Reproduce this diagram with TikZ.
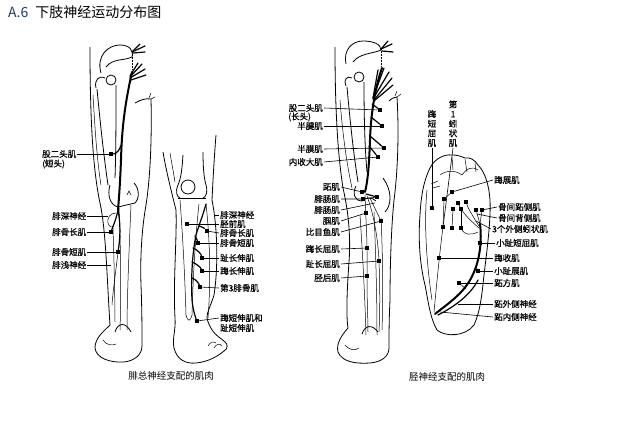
\documentclass[tikz,border=0pt]{standalone}
\usepackage{fontspec}
\setmainfont{Noto Sans CJK SC}
\newfontfamily\lblfont{Noto Sans CJK SC}[FakeBold=0.7]
\definecolor{titleblue}{RGB}{31,56,100}
\begin{document}
\begin{tikzpicture}[x=1pt,y=-1pt,
  outl/.style={line width=0.8pt},
  thinl/.style={line width=0.5pt},
  nerve/.style={line width=2pt, line cap=round},
  nerv2/.style={line width=1.2pt, line cap=round},
  sq/.style={fill=black, minimum size=4.5pt, inner sep=0pt, outer sep=0pt},
  lbl/.style={font=\lblfont\fontsize{8.5}{9.6}\selectfont, inner sep=1pt},
  lead/.style={line width=0.6pt}]
\useasboundingbox (0,0) rectangle (624,447);

% title
\node[anchor=west, inner sep=0pt, font=\fontsize{14}{16}\selectfont] (title) at (8,12) {\textcolor{titleblue}{A.6}\hspace{7pt}下肢神经运动分布图};

% ================= left figure 1 (posterior view) =================
\draw[outl] (90,47) .. controls (90,120) and (93,170) .. (100,203) .. controls (106,230) and (107,280) .. (110,325) .. controls (103,332) and (95,338) .. (95,348) .. controls (96,358) and (110,363) .. (124,362) .. controls (134,361) and (142,355) .. (142,346);
\draw[outl] (151,99) .. controls (152,140) and (150,180) .. (146,205) .. controls (142,228) and (140,255) .. (141,285) .. controls (142,310) and (142,330) .. (142,346);
\draw[outl] (135,103) .. controls (140,100) and (146,98) .. (151,99);
\draw[thinl] (149,98) -- (151,93); \draw[thinl] (151,99) -- (155,97);
\draw[outl] (101,73) .. controls (96,56) and (108,45) .. (120,45) .. controls (129,45) and (134,50) .. (132,57) .. controls (124,61) and (113,58) .. (106,67);
\draw[outl] (111,80) circle (5);
\draw[outl] (96,88) .. controls (94,80) and (99,75) .. (105,78);
\draw[outl] (97,89) .. controls (100,120) and (103,150) .. (108,185);
\draw[outl] (116,85) .. controls (116,120) and (116,150) .. (115,178);
\draw[thinl] (93,95) .. controls (95,130) and (97,160) .. (101,185);
\draw[outl] (110,185) .. controls (107,195) and (110,205) .. (118,207) -- (135,203) .. controls (140,198) and (139,188) .. (134,183);
\draw[thinl] (127,195) -- (129,191) -- (131,195);
\draw[thinl] (119,208) .. controls (121,250) and (121,300) .. (120,330);
\draw[thinl] (131,205) .. controls (129,250) and (127,300) .. (127,330);
\draw[thinl] (113,228) .. controls (114,260) and (115,300) .. (115,322);
\draw[outl] (115,332) .. controls (118,322) and (126,322) .. (131,332);
\draw[thinl] (103,340) .. controls (106,345) and (112,346) .. (116,344);
% nerve
\draw[thinl, densely dotted] (132,52) -- (132,70);
\draw[nerv2] (132,52) -- (140,44); \draw[nerv2] (132,52) -- (145,46); \draw[nerv2] (133,53) -- (145,52);
\draw[nerve] (132,72) .. controls (127,95) and (122,120) .. (121,160) .. controls (120,185) and (119,198) .. (118,210);
\draw[nerv2] (130,76) -- (138,63); \draw[nerv2] (130,77) -- (142,64); \draw[nerv2] (130,78) -- (145,69); \draw[nerv2] (131,80) -- (146,75);
\node[sq] (s_bfs) at (111,154) {};
\node[sq] (s_pl) at (111,232) {};
\node[sq] (s_pb) at (118,252) {};
\draw[nerv2] (121,145) .. controls (120,150) and (116,154) .. (s_bfs);
\draw[nerv2] (118,210) .. controls (116,220) and (113,226) .. (s_pl);
\draw[nerv2] (118,210) .. controls (121,225) and (120,240) .. (s_pb);
\draw[thinl] (s_pb) .. controls (116,270) and (113,290) .. (112,305);
\draw[thinl] (116,213) .. controls (110,213) and (107,218) .. (108,223) .. controls (109,227) and (112,228) .. (114,226);
\coordinate (c_dpn) at (108,216);
\coordinate (c_spn) at (111,265);
\node[lbl, anchor=west] (bfs) at (41,154) {股二头肌};
\node[lbl, anchor=west] (bfs2) at (41,164) {(短头)};
\node[lbl, anchor=west] (dpn) at (51,216) {腓深神经};
\node[lbl, anchor=west] (pl) at (51,232) {腓骨长肌};
\node[lbl, anchor=west] (pb) at (51,252) {腓骨短肌};
\node[lbl, anchor=west] (spn) at (51,265) {腓浅神经};
\draw[lead] (bfs.east) -- (s_bfs);
\draw[lead] (dpn.east) -- (c_dpn);
\draw[lead] (pl.east) -- (s_pl);
\draw[lead] (pb.east) -- (s_pb);
\draw[lead] (spn.east) -- (c_spn);

% ================= left figure 2 (anterior view) =================
\draw[outl] (163,152) .. controls (166,170) and (171,190) .. (176,210) .. controls (177,240) and (173,280) .. (175,318) .. controls (176,330) and (172,338) .. (174,348) .. controls (177,360) and (186,364) .. (196,363) .. controls (207,362) and (217,357) .. (224,351);
\draw[outl] (224,351) .. controls (228,349) and (228,344) .. (225,342) .. controls (221,338) and (216,336) .. (212,330) .. controls (209,325) and (207,320) .. (207,317);
\draw[thinl] (214,348) .. controls (216,344) and (220,343) .. (222,346);
\draw[thinl] (208,346) .. controls (210,342) and (214,341) .. (216,343);
\draw[outl] (216,135) .. controls (214,160) and (213,180) .. (212,200) .. controls (218,230) and (218,270) .. (214,295) .. controls (211,305) and (207,312) .. (207,317);
\draw[thinl] (170,153) .. controls (172,165) and (174,175) .. (175,182);
\draw[outl] (183,155) .. controls (182,170) and (181,178) .. (178,185) .. controls (175,192) and (177,197) .. (180,198);
\draw[outl] (203,152) .. controls (203,168) and (204,178) .. (206,185) .. controls (208,192) and (206,197) .. (203,198);
\draw[outl] (188,187) circle (7);
\draw[outl] (178,198) -- (206,198);
\draw[thinl] (180,200) .. controls (183,240) and (185,280) .. (186,315);
\draw[thinl] (199,204) .. controls (195,240) and (193,280) .. (192,315);
\draw[thinl] (206,204) .. controls (210,240) and (211,280) .. (208,318);
\draw[thinl] (186,315) .. controls (188,322) and (190,322) .. (192,315);
% nerve
\node[sq] (s_ta) at (187,224) {};
\node[sq] (s_pl2) at (207,231) {};
\node[sq] (s_pb2) at (198,243) {};
\node[sq] (s_edl) at (202,258) {};
\node[sq] (s_ehl) at (202,271) {};
\node[sq] (s_pt) at (200,287) {};
\node[sq] (s_ehb) at (197,321) {};
\draw[nerv2] (206,204) .. controls (203,215) and (199,225) .. (196,235) .. controls (192,255) and (191,280) .. (192,300) .. controls (193,310) and (195,316) .. (s_ehb);
\draw[nerv2] (199,226) .. controls (203,227) and (205,229) .. (s_pl2);
\draw[nerv2] (195,236) .. controls (197,238) .. (s_pb2);
\draw[nerv2] (193,248) .. controls (198,250) and (201,254) .. (s_edl);
\draw[nerv2] (192,262) .. controls (197,264) and (201,268) .. (s_ehl);
\draw[nerv2] (192,278) .. controls (197,280) and (199,284) .. (s_pt);
\coordinate (c_dpn2) at (214,215);
\node[lbl, anchor=west] (dpn2) at (219,215) {腓深神经};
\node[lbl, anchor=west] (ta) at (219,224) {胫前肌};
\node[lbl, anchor=west] (pl2) at (219,233) {腓骨长肌};
\node[lbl, anchor=west] (pb2) at (219,243) {腓骨短肌};
\node[lbl, anchor=west] (edl) at (219,258) {趾长伸肌};
\node[lbl, anchor=west] (ehl) at (219,271) {踇长伸肌};
\node[lbl, anchor=west] (pt) at (219,288) {第3腓骨肌};
\node[lbl, anchor=west] (ehb) at (219,318) {踇短伸肌和};
\node[lbl, anchor=west] (ehb2) at (219,328) {趾短伸肌};
\draw[lead] (c_dpn2) -- (dpn2.west);
\draw[lead] (s_ta) -- (ta.west);
\draw[lead] (s_pl2) -- (pl2.west);
\draw[lead] (s_pb2) -- (pb2.west);
\draw[lead] (s_edl) -- (edl.west);
\draw[lead] (s_ehl) -- (ehl.west);
\draw[lead] (s_pt) -- (pt.west);
\draw[lead] (s_ehb) -- (ehb.west);
\node[font=\fontsize{9.5}{11}\selectfont, inner sep=1pt] (cap1) at (171,376) {腓总神经支配的肌肉};

% ================= right figure (tibial, posterior view) =================
\draw[outl] (335,47) .. controls (335,100) and (337,150) .. (343,188) .. controls (348,210) and (351,235) .. (349,262) .. controls (347,290) and (346,315) .. (348,328) .. controls (341,336) and (336,344) .. (338,352) .. controls (342,362) and (356,364) .. (370,363) .. controls (382,362) and (389,356) .. (389,348);
\draw[outl] (397,97) .. controls (399,130) and (398,170) .. (394,200) .. controls (391,230) and (390,270) .. (390,300) .. controls (389,320) and (389,335) .. (389,348);
\draw[outl] (389,101) .. controls (392,98) and (395,97) .. (397,97);
\draw[thinl] (395,96) -- (397,91); \draw[thinl] (397,97) -- (401,94);
\draw[outl] (346,64) .. controls (343,50) and (352,41) .. (363,41) .. controls (373,41) and (381,44) .. (381,50) .. controls (372,54) and (360,53) .. (353,62);
\draw[outl] (359,77) circle (5);
\draw[outl] (346,86) .. controls (343,80) and (347,75) .. (352,78);
\draw[outl] (347,87) .. controls (350,120) and (353,150) .. (358,182);
\draw[outl] (364,82) .. controls (364,120) and (365,150) .. (367,172);
\draw[thinl] (340,100) .. controls (343,140) and (348,170) .. (352,188);
\draw[outl] (356,186) .. controls (352,194) and (355,201) .. (362,201) .. controls (366,197) and (372,197) .. (376,201);
\draw[outl] (383,178) .. controls (392,190) and (392,205) .. (385,212);
\draw[thinl] (360,215) .. controls (363,260) and (365,300) .. (366,335);
\draw[thinl] (374,212) .. controls (376,260) and (377,300) .. (377,335);
\draw[thinl] (381,218) .. controls (383,260) and (383,300) .. (382,330);
\draw[outl] (362,334) .. controls (365,325) and (372,324) .. (378,332);
\draw[thinl] (345,345) .. controls (349,350) and (355,351) .. (359,348);
% nerve
\draw[thinl, densely dotted] (381,49) -- (381,67);
\draw[nerv2] (381,49) -- (388,41); \draw[nerv2] (381,49) -- (392,44); \draw[nerv2] (382,51) -- (393,52);
\draw[nerve] (382,68) .. controls (376,85) and (371,110) .. (370,140) .. controls (369,165) and (368,180) .. (365,192);
\draw[nerv2] (373,98) -- (378,70); \draw[nerv2] (373,98) -- (384,68); \draw[nerv2] (373,99) -- (389,72); \draw[nerv2] (374,100) -- (392,78); \draw[nerv2] (374,101) -- (393,85);
\node[sq] (s_bfl) at (380,110) {};
\node[sq] (s_st) at (382,126) {};
\node[sq] (s_sm) at (384,148) {};
\node[sq] (s_am) at (378,157) {};
\node[sq] (s_pla) at (362,192) {};
\node[sq] (s_gas) at (363,199) {};
\node[sq] (s_gasb) at (377,197) {};
\node[sq] (s_pop) at (366,213) {};
\node[sq] (s_sol) at (381,221) {};
\node[sq] (s_fhl) at (367,248) {};
\node[sq] (s_fdl) at (379,261) {};
\node[sq] (s_tp) at (367,276) {};
\draw[nerv2] (372,104) -- (s_bfl);
\draw[nerv2] (371,117) -- (s_st);
\draw[nerv2] (370,136) -- (s_sm);
\draw[nerv2] (369,146) -- (s_am);
\draw[nerv2] (366,194) -- (s_gasb);
\draw[thinl] (365,195) .. controls (366,220) and (367,240) .. (s_fhl);
\draw[thinl] (s_fhl) -- (s_tp) .. controls (367,300) and (368,320) .. (368,332);
\draw[thinl] (367,196) .. controls (374,215) and (378,240) .. (s_fdl);
\draw[thinl] (s_fdl) .. controls (380,290) and (380,310) .. (379,332);
\draw[thinl] (370,198) -- (s_sol);
\coordinate (c_gas2) at (375,203);
\node[lbl, anchor=east] (bfl) at (324,108) {股二头肌};
\node[lbl, anchor=west] (bfl2) at (287,117) {(长头)};
\node[lbl, anchor=east] (st) at (324,126) {半腱肌};
\node[lbl, anchor=east] (sm) at (324,149) {半膜肌};
\node[lbl, anchor=east] (am) at (324,162) {内收大肌};
\node[lbl, anchor=east] (pla) at (341,187) {跖肌};
\node[lbl, anchor=east] (gas1) at (341,199) {腓肠肌};
\node[lbl, anchor=east] (gas2) at (341,210) {腓肠肌};
\node[lbl, anchor=east] (pop) at (341,221) {腘肌};
\node[lbl, anchor=east] (sol) at (341,232) {比目鱼肌};
\node[lbl, anchor=east] (fhl) at (341,249) {踇长屈肌};
\node[lbl, anchor=east] (fdl) at (341,264) {趾长屈肌};
\node[lbl, anchor=east] (tp) at (341,278) {胫后肌};
\draw[lead] (bfl.east) -- (s_bfl);
\draw[lead] (st.east) -- (s_st);
\draw[lead] (sm.east) -- (s_sm);
\draw[lead] (am.east) -- (s_am);
\draw[lead] (pla.east) -- (s_pla);
\draw[lead] (gas1.east) -- (s_gas) -- (s_gasb);
\draw[lead] (gas2.east) -- (c_gas2);
\draw[lead] (pop.east) -- (s_pop);
\draw[lead] (sol.east) -- (s_sol);
\draw[lead] (fhl.east) -- (s_fhl);
\draw[lead] (fdl.east) -- (s_fdl);
\draw[lead] (tp.east) -- (s_tp);

% ================= foot (plantar view) =================
\draw[outl] (437,330) .. controls (445,337) and (465,337) .. (474,325) .. controls (480,312) and (482,295) .. (484,275) .. controls (487,250) and (491,220) .. (490,200) .. controls (489,185) and (485,172) .. (478,165) .. controls (475,160) and (470,157) .. (465,158) .. controls (460,156) and (457,155) .. (452,155) .. controls (445,154) and (435,158) .. (430,168) .. controls (424,180) and (421,195) .. (420,215) .. controls (418,240) and (420,265) .. (425,285) .. controls (428,300) and (430,318) .. (437,330);
\draw[thinl] (440,175) .. controls (447,170) and (455,170) .. (462,175);
\draw[thinl] (462,175) .. controls (467,168) and (472,166) .. (478,170);
\draw[thinl] (452,157) -- (453,170); \draw[thinl] (465,159) -- (467,172); \draw[thinl] (475,163) -- (476,172);
\draw[thinl] (431,184) -- (438,181); \draw[thinl] (433,188) -- (440,186);
\draw[thinl] (427,190) .. controls (424,220) and (426,260) .. (432,300);
% foot squares
\node[sq] (f1) at (444,199) {};
\node[sq] (f2) at (452,192) {};
\node[sq] (f3) at (458,203) {};
\node[sq] (f4) at (466,202) {};
\node[sq] (f5) at (432,208) {};
\node[sq] (f6) at (453,209) {};
\node[sq] (f7) at (461,209) {};
\node[sq] (f8) at (476,210) {};
\node[sq] (f9) at (482,210) {};
\node[sq] (f10) at (443,227) {};
\node[sq] (f11) at (452,228) {};
\node[sq] (f12) at (461,228) {};
\node[sq] (f13) at (480,243) {};
\node[sq] (f14) at (439,258) {};
\node[sq] (f15) at (478,271) {};
\node[sq] (f16) at (459,283) {};
% foot nerves
\draw[nerve] (435,314) .. controls (450,302) and (466,292) .. (474,272) .. controls (480,258) and (482,240) .. (480,224);
\draw[nerv2] (438,315) .. controls (452,308) and (470,296) .. (478,280);
\draw[thinl] (434,312) .. controls (437,280) and (440,250) .. (f10);
\draw[thinl] (f10) -- (f1) -- (f2);
\draw[thinl] (480,224) -- (f8); \draw[thinl] (480,224) -- (f9);
\draw[thinl] (479,228) .. controls (472,222) and (466,216) .. (f7);
\draw[thinl] (479,226) .. controls (472,215) and (468,208) .. (f4);
\draw[thinl] (f7) -- (f3); \draw[thinl] (f6) -- (f11); \draw[thinl] (f7) -- (f12);
\draw[thinl] (478,232) .. controls (470,236) and (464,234) .. (f12);
\draw[thinl] (f16) -- (466,289);
\draw[thinl] (f15) -- (476,266);
\coordinate (c_idor) at (477,214);
\coordinate (c_lum3) at (476,221);
\coordinate (c_lpn) at (458,304);
\coordinate (c_mpn) at (440,312);
\node[lbl, anchor=south, align=center] (fhb) at (432,148) {踇\\短\\屈\\肌};
\node[lbl, anchor=south, align=center] (lum1) at (453,148) {第\\1\\蚓\\状\\肌};
\node[lbl, anchor=west] (ah) at (493,180) {踇展肌};
\node[lbl, anchor=west] (ipl) at (497,207) {骨间跖侧肌};
\node[lbl, anchor=west] (idor) at (497,218) {骨间背侧肌};
\node[lbl, anchor=west] (lum3) at (491,229) {3个外侧蚓状肌};
\node[lbl, anchor=west] (fdm) at (495,243) {小趾短屈肌};
\node[lbl, anchor=west] (add) at (493,258) {踇收肌};
\node[lbl, anchor=west] (adm) at (493,271) {小趾展肌};
\node[lbl, anchor=west] (qp) at (493,283) {跖方肌};
\node[lbl, anchor=west] (lpn) at (493,304) {跖外侧神经};
\node[lbl, anchor=west] (mpn) at (493,317) {跖内侧神经};
\draw[lead] (fhb.south) -- (f5);
\draw[lead] (lum1.south) -- (f10);
\draw[lead] (ah.west) -- (f2);
\draw[lead] (ipl.west) -- (f9);
\draw[lead] (idor.west) -- (c_idor);
\draw[lead] (lum3.west) -- (c_lum3);
\draw[lead] (fdm.west) -- (f13);
\draw[lead] (add.west) -- (f14);
\draw[lead] (adm.west) -- (f15);
\draw[lead] (qp.west) -- (f16);
\draw[lead] (lpn.west) -- (c_lpn);
\draw[lead] (mpn.west) -- (c_mpn);
\node[font=\fontsize{9.5}{11}\selectfont, inner sep=1pt] (cap2) at (447,377) {胫神经支配的肌肉};
\end{tikzpicture}
\end{document}
